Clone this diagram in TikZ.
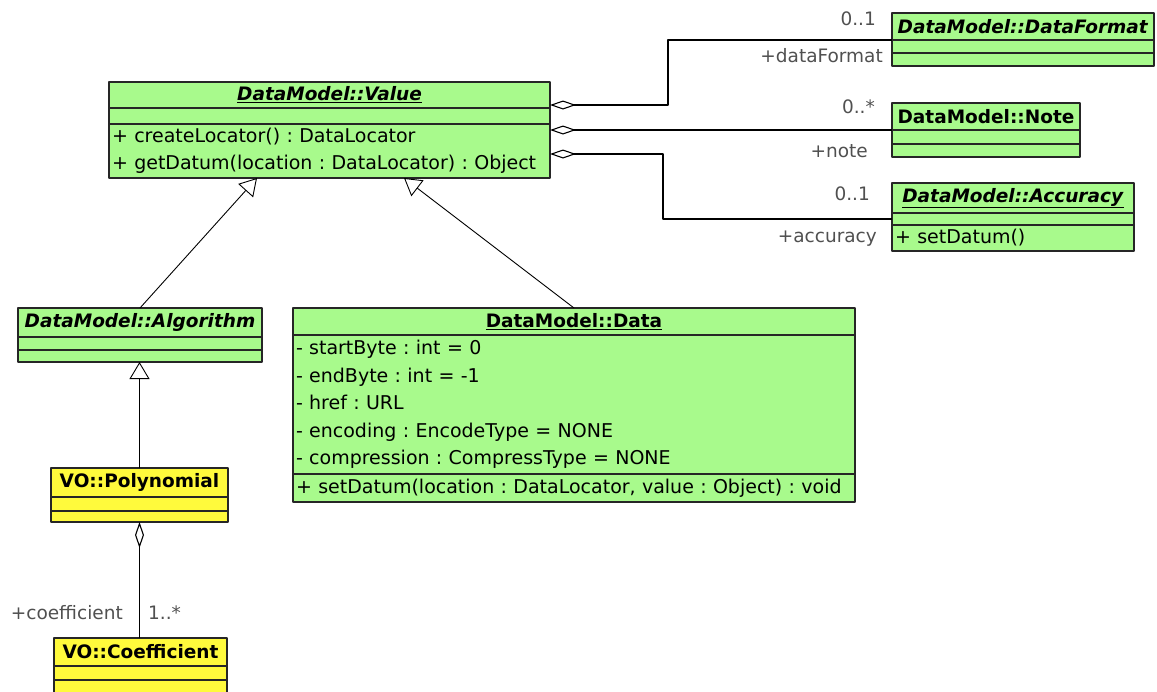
\documentclass[tikz,border=0pt]{standalone}
\usepackage{fontspec}
\setmainfont{DejaVu Sans}
\frenchspacing
\usetikzlibrary{arrows.meta}
\definecolor{umlgreen}{RGB}{168,250,140}
\definecolor{umlyellow}{RGB}{255,250,60}
\definecolor{rolegray}{RGB}{80,80,80}
\tikzset{
  box/.style={draw=black!85, line width=1.2pt, anchor=north west, inner sep=0pt, outer sep=0pt},
  gbox/.style={box, fill=umlgreen},
  ybox/.style={box, fill=umlyellow},
  title/.style={font=\fontsize{18.5}{22}\selectfont\bfseries},
  members/.style={align=left, inner xsep=3pt, inner ysep=0pt, font=\fontsize{19}{27.5}\selectfont},
  role/.style={text=rolegray, inner sep=0pt, font=\fontsize{18.5}{22}\selectfont},
  gen/.style={-{Triangle[open,length=17pt,width=20pt]}, line width=0.9pt},
  agg/.style={{Diamond[open,length=26pt,width=9pt]}-, line width=1.1pt},
}
\begin{document}
\begin{tikzpicture}[x=1pt, y=-1pt, line join=round]
		\def\rx{892} % left edge of the boxes on the right
		\clip (0,0) rectangle (1157,691);
		% DataModel::Value
		\node[gbox, title, minimum width=441, minimum height=26] (valT) at (109,82) {\underline{\textit{DataModel::Value}}};
		\node[gbox, minimum width=441, minimum height=16] (valA) at (109,108) {};
		\node[gbox, members, text width=435, minimum height=54] (valO) at (109,124) {+ createLocator() : DataLocator\\+ getDatum(location : DataLocator) : Object};
		% DataModel::DataFormat
		\node[gbox, title, minimum width=262, minimum height=27] (fmtT) at (\rx,13) {\textit{DataModel::DataFormat}};
		\node[gbox, minimum width=262, minimum height=13] (fmtA) at (\rx,40) {};
		\node[gbox, minimum width=262, minimum height=13] (fmtO) at (\rx,53) {};
		% DataModel::Note
		\node[gbox, title, minimum width=188, minimum height=27] (noteT) at (\rx,103) {DataModel::Note};
		\node[gbox, minimum width=188, minimum height=14] (noteA) at (\rx,130) {};
		\node[gbox, minimum width=188, minimum height=13] (noteO) at (\rx,144) {};
		% DataModel::Accuracy
		\node[gbox, title, minimum width=242, minimum height=30] (accT) at (\rx,183) {\underline{\textit{DataModel::Accuracy}}};
		\node[gbox, minimum width=242, minimum height=12] (accA) at (\rx,213) {};
		\node[gbox, members, text width=236, minimum height=26] (accO) at (\rx,225) {+ setDatum()};
		% DataModel::Algorithm
		\node[gbox, title, minimum width=244, minimum height=29] (algT) at (18,308) {\textit{DataModel::Algorithm}};
		\node[gbox, minimum width=244, minimum height=13] (algA) at (18,337) {};
		\node[gbox, minimum width=244, minimum height=12] (algO) at (18,350) {};
		% DataModel::Data
		\node[gbox, title, minimum width=562, minimum height=27] (dataT) at (293,308) {\underline{DataModel::Data}};
		\node[gbox, members, text width=556, minimum height=139] (dataA) at (293,335) {- startByte : int = 0\\- endByte : int = -1\\- href : URL\\- encoding : EncodeType = NONE\\- compression : CompressType = NONE};
		\node[gbox, members, text width=556, minimum height=28] (dataO) at (293,474) {+ setDatum(location : DataLocator, value : Object) : void};
		% VO::Polynomial, VO::Coefficient
		\node[ybox, title, minimum width=177, minimum height=29] (polyT) at (51,468) {VO::Polynomial};
		\node[ybox, minimum width=177, minimum height=14] (polyA) at (51,497) {};
		\node[ybox, minimum width=177, minimum height=11] (polyO) at (51,511) {};
		\node[ybox, title, minimum width=173, minimum height=28] (coefT) at (54,638) {VO::Coefficient};
		\node[ybox, minimum width=173, minimum height=14] (coefA) at (54,666) {};
		\node[ybox, minimum width=173, minimum height=20] (coefO) at (54,680) {};
		% ends of the connectors on DataModel::Value
		\coordinate (agg1) at (550,105);
		\coordinate (agg2) at (550,130);
		\coordinate (agg3) at (550,154);
		\coordinate (gen1) at (257,178);
		\coordinate (gen2) at (404,178);
		% connectors
		\draw[agg] (agg1) -- ++(118,0) |- (fmtA.north west);
		\draw[agg] (agg2) -- (noteT.south west);
		\draw[agg] (agg3) -- ++(113,0) |- (accA.west);
		\draw[gen] (algT.north) -- (gen1);
		\draw[gen] (dataT.north) -- (gen2);
		\draw[gen] (polyT.north) -- (polyT.north |- algO.south);
		\draw[agg] (polyO.south) -- (polyO.south |- coefT.north);
		% roles and multiplicities
		\node[role, anchor=east] (fmtMul) at (876,19) {0..1};
		\node[role, anchor=east] (fmtRole) at (883,56) {+dataFormat};
		\node[role, anchor=east] (noteMul) at (875,107) {0..*};
		\node[role, anchor=east] (noteRole) at (868,151) {+note};
		\node[role, anchor=east] (accMul) at (870,194) {0..1};
		\node[role, anchor=east] (accRole) at (877,239) {+accuracy};
		\node[role, anchor=east] (coefRole) at (123,613) {+coefficient};
		\node[role, anchor=west] (coefMul) at (148,613) {1..*};
\end{tikzpicture}
\end{document}
